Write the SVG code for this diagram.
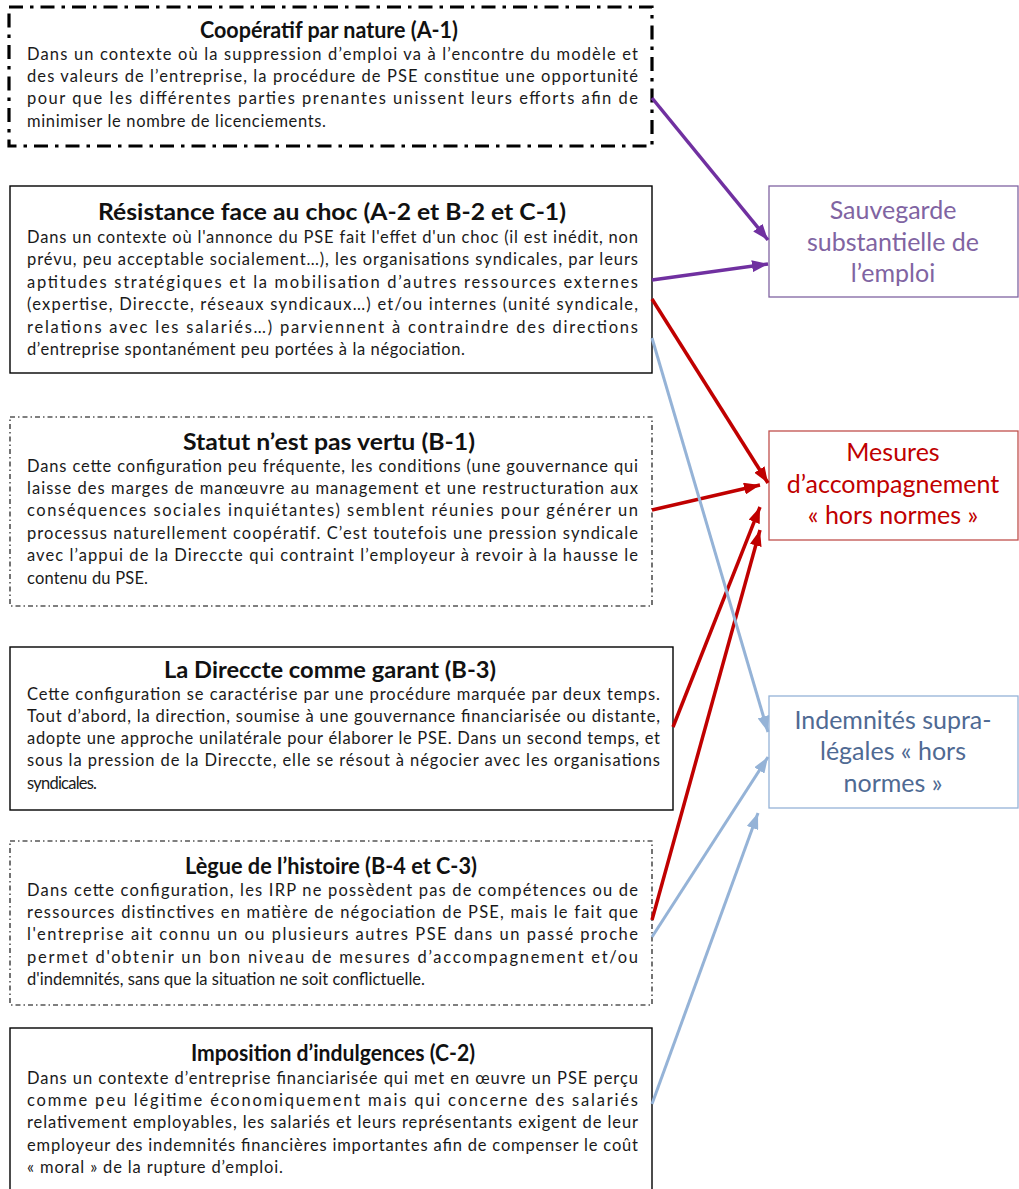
<svg xmlns="http://www.w3.org/2000/svg" width="1019" height="1189" viewBox="0 0 1019 1189">
<style>
.bg{fill:#fff}
.box{fill:#fff;stroke:#000;stroke-width:1.4}
.dd1{fill:#fff;stroke:#000;stroke-width:3.2;stroke-dasharray:14 7 3.5 7}
.dd2{fill:#fff;stroke:#000;stroke-width:1.1;stroke-dasharray:5 3 1.5 3}
.title{font-family:Lato,"Liberation Sans",sans-serif;font-weight:bold;font-size:22.5px;fill:#111}
.body{font-family:Lato,"Liberation Sans",sans-serif;font-size:16.5px;fill:#1a1a1a}
.rt{font-family:Lato,"Liberation Sans",sans-serif;font-size:25px;text-anchor:middle}
.purple{stroke:#7030A0;stroke-width:3.5;fill:none}
.red{stroke:#C00000;stroke-width:3.5;fill:none}
.blue{stroke:#95B3D7;stroke-width:3;fill:none}
</style>
<defs>
<marker id="ap" markerUnits="userSpaceOnUse" markerWidth="17" markerHeight="12" refX="16" refY="6" orient="auto"><path d="M0,0 L16,6 L0,12 z" fill="#7030A0"/></marker>
<marker id="ar" markerUnits="userSpaceOnUse" markerWidth="17" markerHeight="12" refX="16" refY="6" orient="auto"><path d="M0,0 L16,6 L0,12 z" fill="#C00000"/></marker>
<marker id="ab" markerUnits="userSpaceOnUse" markerWidth="17" markerHeight="12" refX="16" refY="6" orient="auto"><path d="M0,0 L16,6 L0,12 z" fill="#95B3D7"/></marker>
</defs>
<rect class="bg" x="0" y="0" width="1019" height="1189"/>

<g id="n-cooperatif">
<rect class="dd1" x="9" y="7" width="643" height="139"/>
<text class="title" x="200" y="38" textLength="258" lengthAdjust="spacingAndGlyphs">Coopératif par nature (A-1)</text>
<text class="body" x="27" y="60" textLength="611" lengthAdjust="spacing">Dans un contexte où la suppression d’emploi va à l’encontre du modèle et</text>
<text class="body" x="27" y="82" textLength="611" lengthAdjust="spacing">des valeurs de l’entreprise, la procédure de PSE constitue une opportunité</text>
<text class="body" x="27" y="104" textLength="611" lengthAdjust="spacing">pour que les différentes parties prenantes unissent leurs efforts afin de</text>
<text class="body" x="27" y="127" textLength="299" lengthAdjust="spacing">minimiser le nombre de licenciements.</text>
</g>

<g id="n-resistance">
<rect class="box" x="10" y="186" width="642" height="187"/>
<text class="title" x="98" y="220" textLength="468" lengthAdjust="spacingAndGlyphs">Résistance face au choc (A-2 et B-2 et C-1)</text>
<text class="body" x="27" y="243" textLength="611" lengthAdjust="spacing">Dans un contexte où l'annonce du PSE fait l'effet d'un choc (il est inédit, non</text>
<text class="body" x="27" y="265" textLength="611" lengthAdjust="spacing">prévu, peu acceptable socialement…), les organisations syndicales, par leurs</text>
<text class="body" x="27" y="288" textLength="611" lengthAdjust="spacing">aptitudes stratégiques et la mobilisation d’autres ressources externes</text>
<text class="body" x="27" y="310" textLength="611" lengthAdjust="spacing">(expertise, Direccte, réseaux syndicaux…) et/ou internes (unité syndicale,</text>
<text class="body" x="27" y="333" textLength="611" lengthAdjust="spacing">relations avec les salariés…) parviennent à contraindre des directions</text>
<text class="body" x="27" y="355" textLength="438" lengthAdjust="spacing">d’entreprise spontanément peu portées à la négociation.</text>
</g>

<g id="n-statut">
<rect class="dd2" x="10" y="417" width="642" height="189"/>
<text class="title" x="183" y="450" textLength="292" lengthAdjust="spacingAndGlyphs">Statut n’est pas vertu (B-1)</text>
<text class="body" x="27" y="472" textLength="611" lengthAdjust="spacing">Dans cette configuration peu fréquente, les conditions (une gouvernance qui</text>
<text class="body" x="27" y="494" textLength="611" lengthAdjust="spacing">laisse des marges de manœuvre au management et une restructuration aux</text>
<text class="body" x="27" y="516" textLength="611" lengthAdjust="spacing">conséquences sociales inquiétantes) semblent réunies pour générer un</text>
<text class="body" x="27" y="539" textLength="611" lengthAdjust="spacing">processus naturellement coopératif. C’est toutefois une pression syndicale</text>
<text class="body" x="27" y="561" textLength="611" lengthAdjust="spacing">avec l’appui de la Direccte qui contraint l’employeur à revoir à la hausse le</text>
<text class="body" x="27" y="584" textLength="121" lengthAdjust="spacing">contenu du PSE.</text>
</g>

<g id="n-direccte">
<rect class="box" x="10" y="647" width="663" height="163"/>
<text class="title" x="164" y="678" textLength="332" lengthAdjust="spacingAndGlyphs">La Direccte comme garant (B-3)</text>
<text class="body" x="27" y="700" textLength="633" lengthAdjust="spacing">Cette configuration se caractérise par une procédure marquée par deux temps.</text>
<text class="body" x="27" y="722" textLength="633" lengthAdjust="spacing">Tout d’abord, la direction, soumise à une gouvernance financiarisée ou distante,</text>
<text class="body" x="27" y="744" textLength="633" lengthAdjust="spacing">adopte une approche unilatérale pour élaborer le PSE. Dans un second temps, et</text>
<text class="body" x="27" y="766" textLength="633" lengthAdjust="spacing">sous la pression de la Direccte, elle se résout à négocier avec les organisations</text>
<text class="body" x="27" y="789" textLength="70" lengthAdjust="spacing">syndicales.</text>
</g>

<g id="n-legue">
<rect class="dd2" x="10" y="841" width="642" height="164"/>
<text class="title" x="185" y="874" textLength="292" lengthAdjust="spacingAndGlyphs">Lègue de l’histoire (B-4 et C-3)</text>
<text class="body" x="27" y="896" textLength="611" lengthAdjust="spacing">Dans cette configuration, les IRP ne possèdent pas de compétences ou de</text>
<text class="body" x="27" y="918" textLength="611" lengthAdjust="spacing">ressources distinctives en matière de négociation de PSE, mais le fait que</text>
<text class="body" x="27" y="940" textLength="611" lengthAdjust="spacing">l'entreprise ait connu un ou plusieurs autres PSE dans un passé proche</text>
<text class="body" x="27" y="963" textLength="611" lengthAdjust="spacing">permet d'obtenir un bon niveau de mesures d’accompagnement et/ou</text>
<text class="body" x="27" y="985" textLength="398" lengthAdjust="spacing">d'indemnités, sans que la situation ne soit conflictuelle.</text>
</g>

<g id="n-imposition">
<rect class="box" x="10" y="1028" width="642" height="170"/>
<text class="title" x="191" y="1061" textLength="284" lengthAdjust="spacingAndGlyphs">Imposition d’indulgences (C-2)</text>
<text class="body" x="27" y="1084" textLength="611" lengthAdjust="spacing">Dans un contexte d’entreprise financiarisée qui met en œuvre un PSE perçu</text>
<text class="body" x="27" y="1106" textLength="611" lengthAdjust="spacing">comme peu légitime économiquement mais qui concerne des salariés</text>
<text class="body" x="27" y="1128" textLength="611" lengthAdjust="spacing">relativement employables, les salariés et leurs représentants exigent de leur</text>
<text class="body" x="27" y="1151" textLength="611" lengthAdjust="spacing">employeur des indemnités financières importantes afin de compenser le coût</text>
<text class="body" x="27" y="1173" textLength="256" lengthAdjust="spacing">« moral » de la rupture d’emploi.</text>
</g>

<g id="n-sauvegarde">
<rect x="769" y="186" width="249" height="111" fill="#fff" stroke="#8064A2" stroke-width="1.3"/>
<text class="rt" fill="#8064A2" x="893" y="219">Sauvegarde</text>
<text class="rt" fill="#8064A2" x="893" y="251">substantielle de</text>
<text class="rt" fill="#8064A2" x="893" y="282">l’emploi</text>
</g>

<g id="n-mesures">
<rect x="769" y="431" width="249" height="109" fill="#fff" stroke="#C0504D" stroke-width="1.3"/>
<text class="rt" fill="#C00000" x="893" y="461">Mesures</text>
<text class="rt" fill="#C00000" x="893" y="493">d’accompagnement</text>
<text class="rt" fill="#C00000" x="893" y="524">« hors normes »</text>
</g>

<g id="n-indemnites">
<rect x="769" y="696" width="249" height="112" fill="#fff" stroke="#95B3D7" stroke-width="1.3"/>
<text class="rt" fill="#4F6A93" x="893" y="729">Indemnités supra-</text>
<text class="rt" fill="#4F6A93" x="893" y="760">légales « hors</text>
<text class="rt" fill="#4F6A93" x="893" y="792">normes »</text>
</g>

<g id="connectors">
<line class="purple" x1="652" y1="98" x2="768" y2="240" marker-end="url(#ap)"/>
<line class="purple" x1="652" y1="280" x2="768" y2="264" marker-end="url(#ap)"/>
<line class="red" x1="652" y1="299" x2="768" y2="483" marker-end="url(#ar)"/>
<line class="red" x1="652" y1="510" x2="760" y2="485" marker-end="url(#ar)"/>
<line class="red" x1="673" y1="727" x2="760" y2="507" marker-end="url(#ar)"/>
<line class="red" x1="652" y1="920" x2="760" y2="530" marker-end="url(#ar)"/>
<line class="blue" x1="652" y1="338" x2="768" y2="732" marker-end="url(#ab)"/>
<line class="blue" x1="652" y1="937" x2="768" y2="757" marker-end="url(#ab)"/>
<line class="blue" x1="652" y1="1104" x2="758" y2="813" marker-end="url(#ab)"/>
</g>
</svg>
